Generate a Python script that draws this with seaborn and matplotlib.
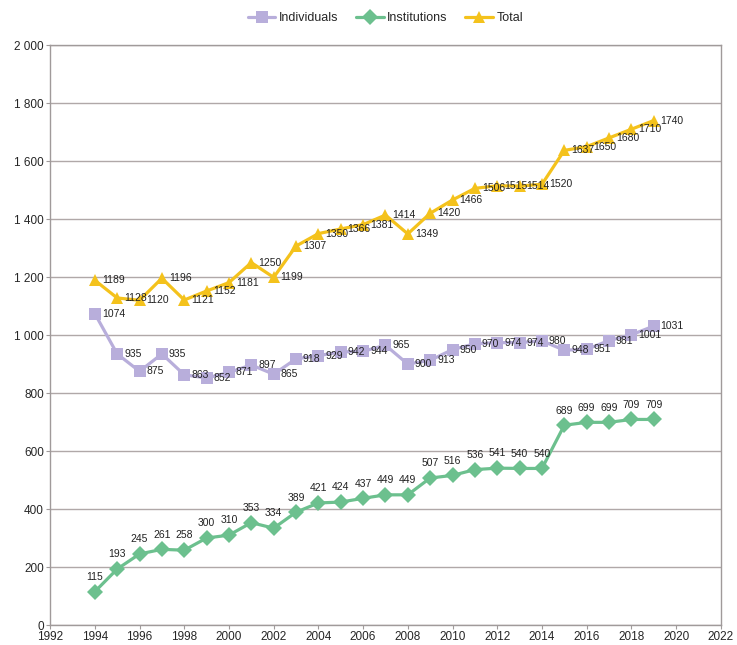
#!/usr/bin/env python3
"""
Line chart of members over time: individuals, institutions and total
"""

import pandas as pd
import matplotlib.pyplot as plt
import matplotlib.ticker as mticker
import seaborn as sns

years = list(range(1994, 2020))
individuals = [1074, 935, 875, 935, 863, 852, 871, 897, 865, 918, 929, 942, 944,
               965, 900, 913, 950, 970, 974, 974, 980, 948, 951, 981, 1001, 1031]
institutions = [115, 193, 245, 261, 258, 300, 310, 353, 334, 389, 421, 424, 437,
                449, 449, 507, 516, 536, 541, 540, 540, 689, 699, 699, 709, 709]
total = [1189, 1128, 1120, 1196, 1121, 1152, 1181, 1250, 1199, 1307, 1350, 1366, 1381,
         1414, 1349, 1420, 1466, 1506, 1515, 1514, 1520, 1637, 1650, 1680, 1710, 1740]
series_names = ['Individuals', 'Institutions', 'Total']

sns.set_style('white')
plt.rcParams['font.family'] = ['Liberation Sans Narrow', 'Liberation Sans', 'DejaVu Sans']

colors = {'Individuals': '#b8aedb', 'Institutions': '#6cc08e', 'Total': '#f4c21c'}
markers = {'Individuals': 's', 'Institutions': 'D', 'Total': '^'}


def main():
    df = pd.DataFrame({
        'year': years * 3,
        'value': individuals + institutions + total,
        'series': (['Individuals'] * len(years) + ['Institutions'] * len(years)
                   + ['Total'] * len(years)),
    })

    fig, ax = plt.subplots(figsize=(7.37, 6.45), dpi=100)
    fig.subplots_adjust(left=0.068, right=0.978, top=0.930, bottom=0.031)

    sns.lineplot(data=df, x='year', y='value', hue='series', style='series',
                 hue_order=series_names, style_order=series_names,
                 palette=colors, markers=markers, dashes=False,
                 markersize=8.5, markeredgewidth=0, linewidth=2.3, ax=ax)

    # value labels
    for name, vals in zip(series_names, [individuals, institutions, total]):
        for x, y in zip(years, vals):
            if name == 'Institutions':
                ax.annotate(str(y), (x, y), xytext=(0, 7), textcoords='offset points',
                            ha='center', va='bottom', fontsize=7.5, color='#222222')
            else:
                ax.annotate(str(y), (x, y), xytext=(5, 0), textcoords='offset points',
                            ha='left', va='center', fontsize=7.5, color='#222222')

    ax.set_xlim(1992, 2022)
    ax.set_ylim(0, 2000)
    ax.set_xticks(range(1992, 2023, 2))
    ax.set_yticks(range(0, 2001, 200))
    ax.yaxis.set_major_formatter(mticker.FuncFormatter(
        lambda v, p: f'{int(v):,}'.replace(',', ' ')))
    ax.set_xlabel('')
    ax.set_ylabel('')
    ax.tick_params(axis='both', labelsize=8.5, length=3, pad=1.5, color='#a09a9a',
                   direction='out', left=True, bottom=True)
    ax.grid(axis='y', color='#b0a8a8', linewidth=1)
    ax.set_axisbelow(True)
    for side in ['left', 'bottom', 'right', 'top']:
        ax.spines[side].set_color('#a09a9a')
        ax.spines[side].set_linewidth(1)

    ax.legend(loc='center', bbox_to_anchor=(0.5, 1.047), ncol=3,
              frameon=False, fontsize=9, handlelength=2.2, columnspacing=1.4,
              handletextpad=0.3)

    plt.savefig('out.png', dpi=100)
    plt.close()


if __name__ == "__main__":
    main()
